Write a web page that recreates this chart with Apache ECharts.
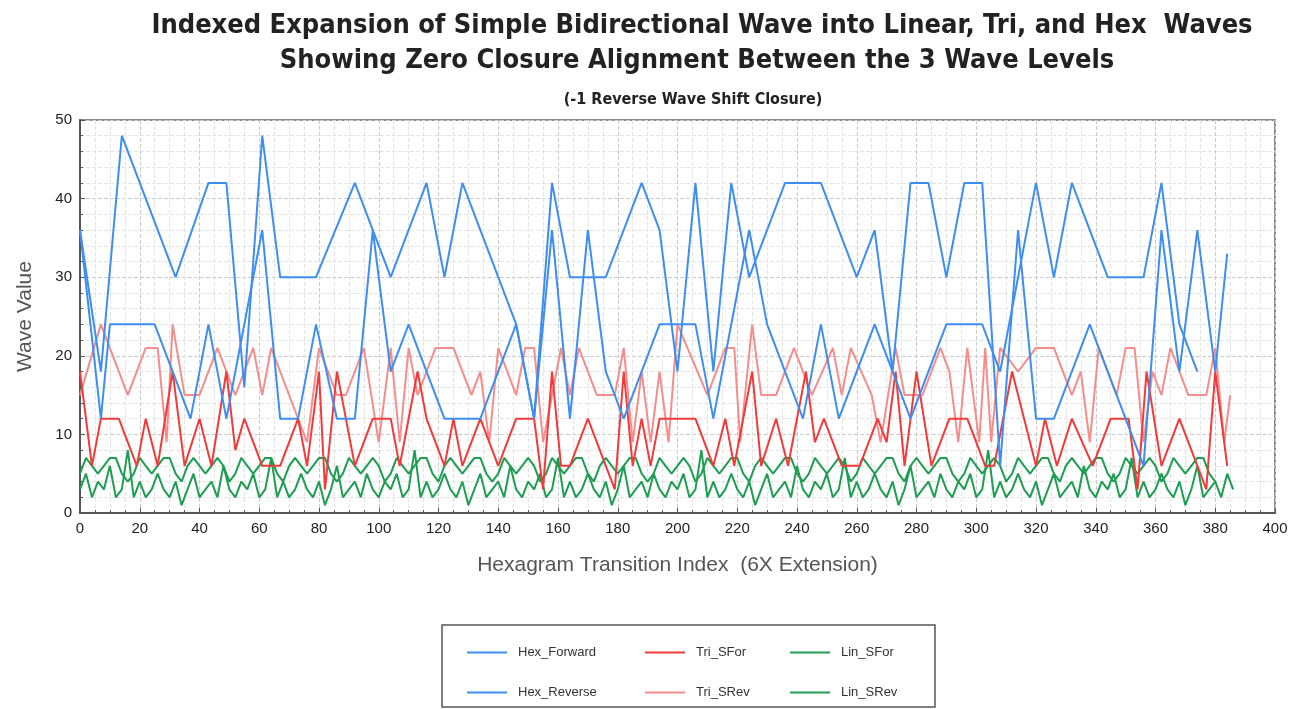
<!DOCTYPE html>
<html>
<head>
<meta charset="utf-8">
<script src="https://cdn.jsdelivr.net/npm/echarts@6/dist/echarts.min.js"></script>
<style>html,body{margin:0;padding:0;background:#fff}#main{width:1315px;height:709px}</style>
</head>
<body>
<div id="main"></div>
<script>
// vertices [index, value]
var hexForward = [[0,36],[7,18],[14,48],[32,30],[43,42],[49,42],[55,16],[61,48],[67,30],[79,30],[92,42],[104,30],[116,42],[122,30],[128,42],[140,30],[146,24],[152,12],[158,42],[164,30],[176,30],[188,42],[194,36],[200,18],[206,42],[212,18],[218,42],[224,30],[236,42],[248,42],[260,30],[266,36],[272,18],[278,42],[284,42],[290,30],[296,42],[302,42],[308,6],[314,36],[320,12],[326,12],[338,24],[356,6],[362,36],[368,18],[374,36],[380,18],[384,33]];
var hexReverse = [[0,36],[7,12],[10,24],[25,24],[37,12],[43,24],[49,12],[61,36],[67,12],[73,12],[79,24],[86,12],[92,12],[98,36],[104,18],[110,24],[122,12],[134,12],[146,24],[152,12],[158,36],[164,12],[170,36],[176,18],[182,12],[194,24],[206,24],[212,12],[224,36],[230,24],[242,12],[248,24],[254,12],[266,24],[272,18],[278,12],[290,24],[302,24],[308,18],[320,42],[326,30],[332,42],[344,30],[356,30],[362,42],[368,24],[374,18]];
var triSFor = [[0,18],[4,6],[7,12],[13,12],[19,6],[22,12],[26,6],[31,18],[35,6],[40,12],[44,6],[49,18],[52,8],[55,12],[61,6],[67,6],[73,12],[76,6],[80,18],[82,3],[86,18],[92,6],[98,12],[104,12],[107,6],[113,18],[116,12],[122,6],[125,12],[128,6],[134,12],[140,6],[146,12],[152,12],[155,3],[158,18],[161,6],[164,6],[170,12],[176,6],[179,3],[182,18],[185,6],[188,12],[191,6],[194,12],[200,12],[206,12],[212,6],[216,12],[219,6],[225,18],[228,6],[233,12],[237,6],[243,18],[246,9],[249,12],[255,6],[261,6],[267,12],[270,9],[273,18],[276,6],[280,18],[285,6],[291,12],[297,12],[303,6],[306,6],[312,18],[320,6],[323,12],[327,6],[332,12],[339,6],[345,12],[351,12],[354,3],[357,18],[362,6],[368,12],[377,3],[380,18],[384,6]];
var triSRev = [[0,15],[7,24],[16,15],[22,21],[26,21],[29,9],[31,24],[35,15],[40,15],[46,21],[52,15],[58,21],[61,15],[64,21],[76,9],[80,21],[86,15],[89,15],[95,21],[100,9],[104,21],[107,9],[110,21],[113,15],[119,21],[125,21],[131,15],[134,18],[137,9],[140,21],[146,15],[149,21],[152,21],[155,9],[161,21],[164,15],[167,21],[173,15],[179,15],[182,21],[185,9],[188,18],[191,9],[194,18],[197,9],[200,24],[210,15],[216,21],[219,21],[221,9],[225,24],[228,15],[233,15],[239,21],[245,15],[252,21],[255,15],[258,21],[265,15],[268,9],[273,21],[276,15],[282,15],[288,21],[291,18],[294,9],[297,21],[301,9],[303,21],[305,9],[308,21],[314,18],[320,21],[326,21],[332,15],[335,18],[338,9],[341,21],[347,15],[350,21],[353,21],[356,9],[359,18],[362,15],[365,21],[371,15],[377,15],[380,21],[383,9],[385,15]];
// green waves, one value per even index 0..384
var linSFor = [5,7,6,5,6,7,7,5,4,5,7,6,5,6,7,7,5,4,6,7,6,5,6,7,6,4,5,7,6,5,6,7,7,5,4,6,7,6,5,6,7,7,5,4,5,7,6,5,6,7,6,4,5,7,6,5,6,7,7,5,4,6,7,6,5,6,7,7,5,4,5,7,6,5,6,7,6,4,5,7,6,5,6,7,7,5,4,6,7,6,5,6,7,7,5,4,5,7,6,5,6,7,6,4,5,7,6,5,6,7,7,5,4,6,7,6,5,6,7,7,5,4,5,7,6,5,6,7,6,4,5,7,6,5,6,7,7,5,4,6,7,6,5,6,7,7,5,4,5,7,6,5,6,7,6,4,5,7,6,5,6,7,7,5,4,6,7,6,5,6,7,7,5,4,5,7,6,5,6,7,6,4,5,7,6,5,6,7,7,5,4];
var linSRev = [3,5,2,4,3,6,2,3,8,2,4,2,3,5,3,2,4,1,3,5,2,3,4,2,6,3,2,4,3,5,2,3,7,2,4,2,3,5,3,2,4,1,3,6,2,3,4,2,5,3,2,4,3,5,2,3,8,2,4,2,3,5,3,2,4,1,3,5,2,3,4,2,6,3,2,4,3,5,2,3,7,2,4,2,3,5,3,2,4,1,3,6,2,3,4,2,5,3,2,4,3,5,2,3,8,2,4,2,3,5,3,2,4,1,3,5,2,3,4,2,6,3,2,4,3,5,2,3,7,2,4,2,3,5,3,2,4,1,3,6,2,3,4,2,5,3,2,4,3,5,2,3,8,2,4,2,3,5,3,2,4,1,3,5,2,3,4,2,6,3,2,4,3,5,2,3,7,2,4,2,3,5,3,2,4,1,3,6,2,3,4,2,5,3];
var xTicks = [0,400,20];
var yTicks = [0,50,10];

function evenPairs(vals){
    var out=[];
    for(var i=0;i<vals.length;i++){ out.push([i*2, vals[i]]); }
    return out;
}

var FONT = "'DejaVu Sans Condensed', 'Liberation Sans', sans-serif";
var names = ['Hex_Forward','Tri_SFor','Lin_SFor','Hex_Reverse','Tri_SRev','Lin_SRev'];
var colors = {Hex_Forward:'#3d8ef0',Hex_Reverse:'#3d8ef0',Tri_SFor:'#f23a3a',Tri_SRev:'#f58d8d',Lin_SFor:'#1e9e52',Lin_SRev:'#1e9e52'};
var dataMap = {Hex_Forward:hexForward,Hex_Reverse:hexReverse,Tri_SFor:triSFor,Tri_SRev:triSRev,Lin_SFor:evenPairs(linSFor),Lin_SRev:evenPairs(linSRev)};
var order = ['Lin_SRev','Lin_SFor','Tri_SRev','Tri_SFor','Hex_Reverse','Hex_Forward'];

var series = order.map(function(n){
    return {name:n,type:'line',data:dataMap[n],symbol:'none',
        lineStyle:{color:colors[n],width:2},itemStyle:{color:colors[n]},animation:false};
});

var legendPos = [[462,648],[640,648],[785,648],[462,688],[640,688],[785,688]];
var legends = names.map(function(n,i){
    return {data:[n],left:legendPos[i][0],top:legendPos[i][1]-7,itemWidth:40,itemHeight:14,
        icon:'path://M0,6L40,6L40,8L0,8Z',
        textStyle:{fontFamily:'Liberation Sans',fontSize:13,color:'#333',padding:[0,0,0,6]}};
});

var myChart = echarts.init(document.getElementById('main'));
myChart.setOption({
    backgroundColor:'#fff',
    title:[
        {text:'Indexed Expansion of Simple Bidirectional Wave into Linear, Tri, and Hex  Waves',left:697,top:7,textAlign:'center',
            textStyle:{fontFamily:FONT,fontWeight:'bold',fontSize:27,color:'#222'}},
        {text:'Showing Zero Closure Alignment Between the 3 Wave Levels',left:692,top:42,textAlign:'center',
            textStyle:{fontFamily:FONT,fontWeight:'bold',fontSize:27,color:'#222'}},
        {text:'(-1 Reverse Wave Shift Closure)',left:688,top:87,textAlign:'center',
            textStyle:{fontFamily:FONT,fontWeight:'bold',fontSize:16,color:'#222'}}
    ],
    legend:legends,
    graphic:[{type:'rect',shape:{x:442,y:625,width:493,height:82},style:{fill:'none',stroke:'#555',lineWidth:1.5}}],
    grid:{left:80,right:40,top:120,bottom:196,show:true,borderColor:'#666',borderWidth:1.5},
    xAxis:{type:'value',min:xTicks[0],max:xTicks[1],interval:xTicks[2],
        name:'Hexagram Transition Index  (6X Extension)',nameLocation:'middle',nameGap:42,
        nameTextStyle:{fontFamily:'Liberation Sans',fontSize:21,color:'#555'},
        axisLine:{lineStyle:{color:'#555',width:2}},axisTick:{inside:true,length:5},
        minorTick:{show:true,splitNumber:4},
        axisLabel:{fontFamily:'Liberation Sans',fontSize:15,color:'#222'},
        splitLine:{show:true,lineStyle:{color:'#ccc',type:'dashed'}},
        minorSplitLine:{show:true,lineStyle:{color:'#e4e4e4',type:'dashed'}}},
    yAxis:{type:'value',min:yTicks[0],max:yTicks[1],interval:yTicks[2],
        name:'Wave Value',nameLocation:'middle',nameGap:44,
        nameTextStyle:{fontFamily:'Liberation Sans',fontSize:21,color:'#555'},
        axisLine:{show:true,lineStyle:{color:'#555',width:2}},axisTick:{show:true,inside:true,length:5},
        minorTick:{show:true,splitNumber:5},
        axisLabel:{fontFamily:'Liberation Sans',fontSize:15,color:'#222'},
        splitLine:{show:true,lineStyle:{color:'#ccc',type:'dashed'}},
        minorSplitLine:{show:true,lineStyle:{color:'#e4e4e4',type:'dashed'}}},
    series:series
});
</script>
</body>
</html>
